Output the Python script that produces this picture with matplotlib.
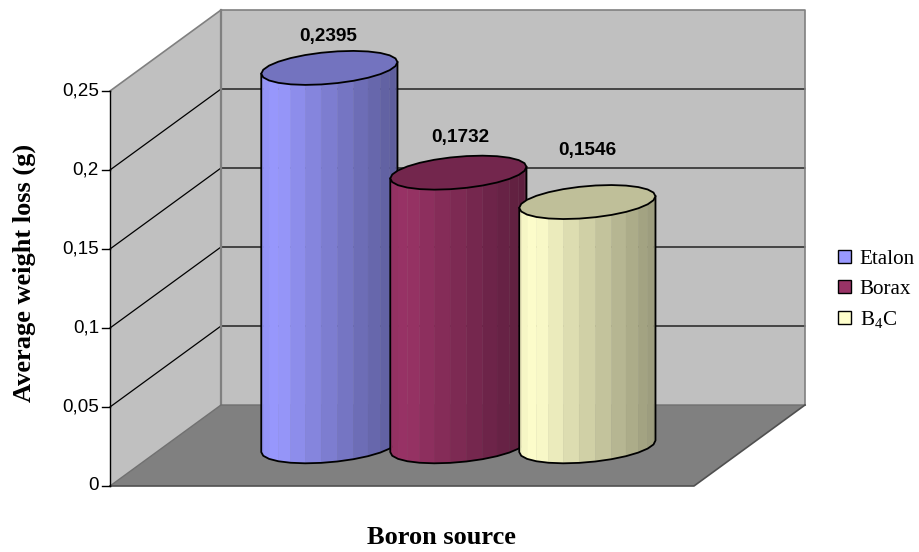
import numpy as np
import matplotlib
matplotlib.use('Agg')
import matplotlib.pyplot as plt
from matplotlib.patches import Patch, Polygon

categories = ['Etalon', 'Borax', 'B$_4$C']
values = [0.2395, 0.1732, 0.1546]
value_labels = ['0,2395', '0,1732', '0,1546']
y_ticks = [0, 0.05, 0.1, 0.15, 0.2, 0.25]
y_tick_labels = ['0', '0,05', '0,1', '0,15', '0,2', '0,25']

colors = ['#9999FF', '#993366', '#FFFFCC']
top_colors = ['#7373BF', '#73264D', '#BFBF99']

plt.rcParams['mathtext.default'] = 'regular'

W, H = 919, 552
PX_X = 584  # пикселей на единицу x
PX_Y = 1580  # пикселей на единицу значения
DEPTH_X = 111 / PX_X
DEPTH_Y = 81 / PX_Y

fig = plt.figure(figsize=(W / 100, H / 100), dpi=100)
ax = fig.add_axes([0, 0, 1, 1])
ax.set_xlim(-110 / PX_X, (W - 110) / PX_X)
ax.set_ylim(-(H - 486) / PX_Y, 486 / PX_Y)
ax.axis('off')

top_val = y_ticks[-1]


def depth(x, y, d):
    return x + DEPTH_X * d, y + DEPTH_Y * d


# стены и пол
bx, by = depth(0, 0, 1)
ax.add_patch(Polygon([(0, 0), (1, 0), depth(1, 0, 1), (bx, by)], fc='#808080', ec='none', zorder=1))
ax.add_patch(Polygon([(0, 0), (bx, by), depth(0, top_val, 1), (0, top_val)], fc='#C0C0C0', ec='none', zorder=1))
ax.add_patch(Polygon([(bx, by), depth(1, 0, 1), depth(1, top_val, 1), depth(0, top_val, 1)],
                     fc='#C0C0C0', ec='none', zorder=1))

# сетка
for t in y_ticks[1:-1]:
    xs, ys = zip((0, t), depth(0, t, 1), depth(1, t, 1))
    ax.plot(xs, ys, color='black', lw=0.9, zorder=2)

# рамка
xs, ys = zip((0, top_val), depth(0, top_val, 1), depth(1, top_val, 1), depth(1, 0, 1))
ax.plot(xs, ys, color='#808080', lw=1.2, zorder=2)
xs, ys = zip(depth(0, 0, 1), depth(0, top_val, 1))
ax.plot(xs, ys, color='#808080', lw=1.6, zorder=2)
xs, ys = zip((0, 0), depth(0, 0, 1), depth(1, 0, 1))
ax.plot(xs, ys, color='#707070', lw=1.0, zorder=2)
xs, ys = zip((0, 0), (1, 0), depth(1, 0, 1))
ax.plot(xs, ys, color='#505050', lw=1.2, zorder=3)

# ось y
ax.plot([0, 0], [0, top_val], color='black', lw=1.0, zorder=3)
for t, lab in zip(y_ticks, y_tick_labels):
    ax.plot([-8 / PX_X, 0], [t, t], color='black', lw=1.0, zorder=3)
    ax.text(-11 / PX_X, t, lab, ha='right', va='center', fontsize=13.6, family='Liberation Sans')

# цилиндры
R = 64 / PX_X
SX = 23.3 / PX_X
SY = 17 / PX_Y
N_FACETS = 26
brightness_x = [0.0, 0.12, 0.35, 0.65, 1.0]
brightness_y = [0.95, 1.0, 0.88, 0.75, 0.60]
t0 = np.arctan2(SX, R)


def ring(cx, cy, t):
    return cx + R * np.cos(t) + SX * np.sin(t), cy + SY * np.sin(t)


label_offsets = [(-1.5, 31), (2, 35), (0, 52)]
for i, v in enumerate(values):
    cx, cy = depth(0.2825 + i * 129 / PX_X, 0, 0.49)
    zo = 5 + i
    t = np.linspace(np.pi + t0, 2 * np.pi + t0, N_FACETS // 2 + 1)
    xb, yb = ring(cx, cy, t)
    ytop = yb + v
    xmin, xmax = xb.min(), xb.max()
    base = np.array(matplotlib.colors.to_rgb(colors[i]))
    for j in range(len(t) - 1):
        f = ((xb[j] + xb[j + 1]) / 2 - xmin) / (xmax - xmin)
        col = base * np.interp(f, brightness_x, brightness_y)
        ax.add_patch(Polygon([(xb[j], yb[j]), (xb[j + 1], yb[j + 1]), (xb[j + 1], ytop[j + 1]), (xb[j], ytop[j])],
                             fc=col, ec=col, lw=0.3, zorder=zo))
    outline_x = [xb[0]] + list(xb) + [xb[-1]]
    outline_y = [ytop[0]] + list(yb) + [ytop[-1]]
    ax.plot(outline_x, outline_y, color='black', lw=1.3, zorder=zo, solid_joinstyle='round')
    tt = np.linspace(0, 2 * np.pi, N_FACETS + 1) + t0
    xt, yt = ring(cx, cy + v, tt)
    ax.add_patch(Polygon(np.column_stack([xt, yt]), fc=top_colors[i], ec='black', lw=1.3, zorder=zo))
    ax.annotate(value_labels[i], (cx, cy + v), xytext=label_offsets[i], textcoords='offset pixels',
                ha='center', va='center', fontsize=13.7, fontweight='bold', family='Liberation Sans', zorder=20)

# подписи осей
ax.text(441.5 / W, 1 - 537 / H, 'Boron source', transform=ax.transAxes, ha='center', va='center',
        fontsize=19, fontweight='bold', family='Liberation Serif')
ax.text(24 / W, 1 - 273 / H, 'Average weight loss (g)', transform=ax.transAxes, ha='center', va='center',
        rotation=90, fontsize=19, fontweight='bold', family='Liberation Serif')

handles = [Patch(fc=c, ec='black', lw=1.0) for c in colors]
ax.legend(handles, categories, loc='center left', bbox_to_anchor=(838 / W, 1 - 290 / H), frameon=False,
          handlelength=0.6, handleheight=0.6, handletextpad=0.42, labelspacing=0.5, borderpad=0, borderaxespad=0,
          prop={'family': 'Liberation Serif', 'size': 15.2})

fig.savefig('out.png', dpi=100)
